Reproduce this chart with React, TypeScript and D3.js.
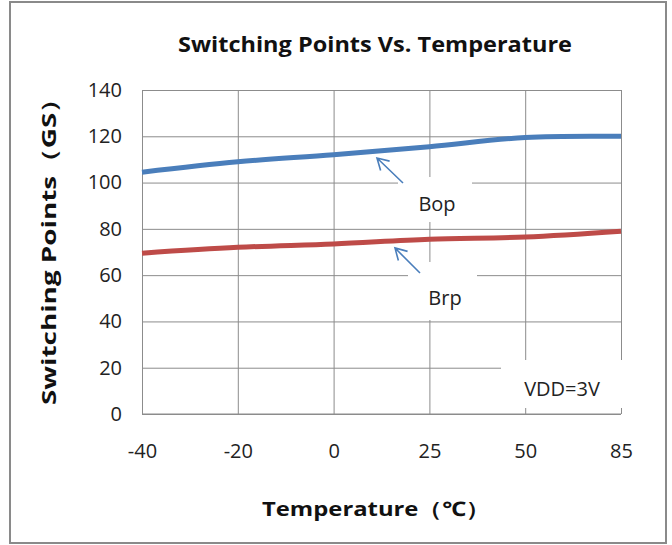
import React, { useEffect, useRef } from 'react';
import * as d3 from 'd3';

// Data
const temperatures = ['-40', '-20', '0', '25', '50', '85'];
const bopValues = [104.5, 109, 112, 115.5, 119.5, 120];
const brpValues = [69.5, 72, 73.5, 75.5, 76.5, 79];
const yTicks = [0, 20, 40, 60, 80, 100, 120, 140];

const FONT = "'Open Sans', 'Noto Sans', sans-serif";

export default function App() {
  const ref = useRef<SVGSVGElement>(null);

  useEffect(() => {
    const width = 672;
    const height = 545;
    const margin = { top: 90, right: 51, bottom: 131, left: 142 };

    const svg = d3.select(ref.current);
    svg.selectAll('*').remove();

    // Scales
    const xScale = d3
      .scalePoint<string>()
      .domain(temperatures)
      .range([margin.left, width - margin.right]);

    const yScale = d3
      .scaleLinear()
      .domain([0, 140])
      .range([height - margin.bottom, margin.top]);

    // Outer border
    svg
      .append('rect')
      .attr('x', 10)
      .attr('y', 2)
      .attr('width', 656)
      .attr('height', 541)
      .attr('fill', '#fff')
      .attr('stroke', '#8a8a8a')
      .attr('stroke-width', 2);

    // Title
    svg
      .append('text')
      .attr('x', 375)
      .attr('y', 52)
      .attr('text-anchor', 'middle')
      .attr('font-family', FONT)
      .attr('font-weight', 'bold')
      .attr('font-size', 21)
      .attr('textLength', 394)
      .attr('lengthAdjust', 'spacingAndGlyphs')
      .attr('fill', '#111')
      .text('Switching Points Vs. Temperature');

    // Horizontal gridlines + y labels
    const yAxis = d3
      .axisLeft(yScale)
      .tickValues(yTicks)
      .tickSize(-(width - margin.left - margin.right))
      .tickPadding(20)
      .tickFormat(d3.format('d'));

    const yAxisDraw = svg
      .append('g')
      .attr('transform', `translate(${margin.left},0)`)
      .call(yAxis);
    yAxisDraw.select('.domain').remove();
    yAxisDraw.selectAll('line').attr('stroke', '#8c8c8c');
    yAxisDraw
      .selectAll('text')
      .attr('font-family', FONT)
      .attr('font-size', 20)
      .attr('fill', '#222');

    // Vertical gridlines + x labels
    const xAxis = d3
      .axisBottom(xScale)
      .tickSize(-(height - margin.top - margin.bottom))
      .tickPadding(30);

    const xAxisDraw = svg
      .append('g')
      .attr('transform', `translate(0,${height - margin.bottom})`)
      .call(xAxis);
    xAxisDraw.select('.domain').attr('stroke', '#8c8c8c').attr('d', `M${margin.left},0H${width - margin.right}`);
    xAxisDraw.selectAll('line').attr('stroke', '#8c8c8c');
    xAxisDraw
      .selectAll('text')
      .attr('font-family', FONT)
      .attr('font-size', 20)
      .attr('fill', '#222');

    // White label boxes that hide gridlines
    const boxes = [
      { x: 398, y: 177, w: 74, h: 45 },
      { x: 408, y: 262, w: 69, h: 58 },
      { x: 501, y: 360, w: 131, h: 48 },
    ];
    svg
      .append('g')
      .selectAll('rect')
      .data(boxes)
      .enter()
      .append('rect')
      .attr('x', d => d.x)
      .attr('y', d => d.y)
      .attr('width', d => d.w)
      .attr('height', d => d.h)
      .attr('fill', '#fff');

    // Series lines
    const line = d3
      .line<number>()
      .x((_, i) => xScale(temperatures[i]) as number)
      .y(d => yScale(d))
      .curve(d3.curveCatmullRom.alpha(0.5));

    svg
      .append('path')
      .attr('d', line(bopValues))
      .attr('fill', 'none')
      .attr('stroke', '#4a7ebb')
      .attr('stroke-width', 5);

    svg
      .append('path')
      .attr('d', line(brpValues))
      .attr('fill', 'none')
      .attr('stroke', '#be4b48')
      .attr('stroke-width', 5);

    // Annotation arrows
    const arrows = [
      { x1: 403, y1: 183, x2: 377, y2: 158 },
      { x1: 420, y1: 273, x2: 395, y2: 248 },
    ];
    arrows.forEach(a => {
      const ang = Math.atan2(a.y1 - a.y2, a.x1 - a.x2);
      const len = 13;
      const spread = Math.PI / 6;
      const w1 = [a.x2 + len * Math.cos(ang - spread), a.y2 + len * Math.sin(ang - spread)];
      const w2 = [a.x2 + len * Math.cos(ang + spread), a.y2 + len * Math.sin(ang + spread)];
      svg
        .append('path')
        .attr(
          'd',
          `M${a.x1},${a.y1}L${a.x2},${a.y2}M${w1[0]},${w1[1]}L${a.x2},${a.y2}L${w2[0]},${w2[1]}`
        )
        .attr('fill', 'none')
        .attr('stroke', '#4a7ebb')
        .attr('stroke-width', 1.6);
    });

    // Annotation texts
    const notes = [
      { x: 437, y: 211, t: 'Bop' },
      { x: 445, y: 305, t: 'Brp' },
      { x: 562, y: 396, t: 'VDD=3V' },
    ];
    svg
      .append('g')
      .selectAll('text')
      .data(notes)
      .enter()
      .append('text')
      .attr('x', d => d.x)
      .attr('y', d => d.y)
      .attr('text-anchor', 'middle')
      .attr('font-family', FONT)
      .attr('font-size', 20)
      .attr('fill', '#222')
      .text(d => d.t);

    // Axis titles
    svg
      .append('text')
      .attr('transform', 'translate(56,245) rotate(-90)')
      .attr('text-anchor', 'middle')
      .attr('font-family', FONT)
      .attr('font-weight', 'bold')
      .attr('font-size', 20)
      .attr('textLength', 320)
      .attr('lengthAdjust', 'spacingAndGlyphs')
      .attr('fill', '#111')
      .text('Switching Points（GS）');

    svg
      .append('text')
      .attr('x', 376)
      .attr('y', 516)
      .attr('text-anchor', 'middle')
      .attr('font-family', FONT)
      .attr('font-weight', 'bold')
      .attr('font-size', 20)
      .attr('textLength', 228)
      .attr('lengthAdjust', 'spacingAndGlyphs')
      .attr('fill', '#111')
      .text('Temperature（℃）');
  }, []);

  return (
    <svg
      ref={ref}
      width={672}
      height={545}
      style={{ position: 'absolute', left: 0, top: 0, background: '#fff' }}
    />
  );
}
